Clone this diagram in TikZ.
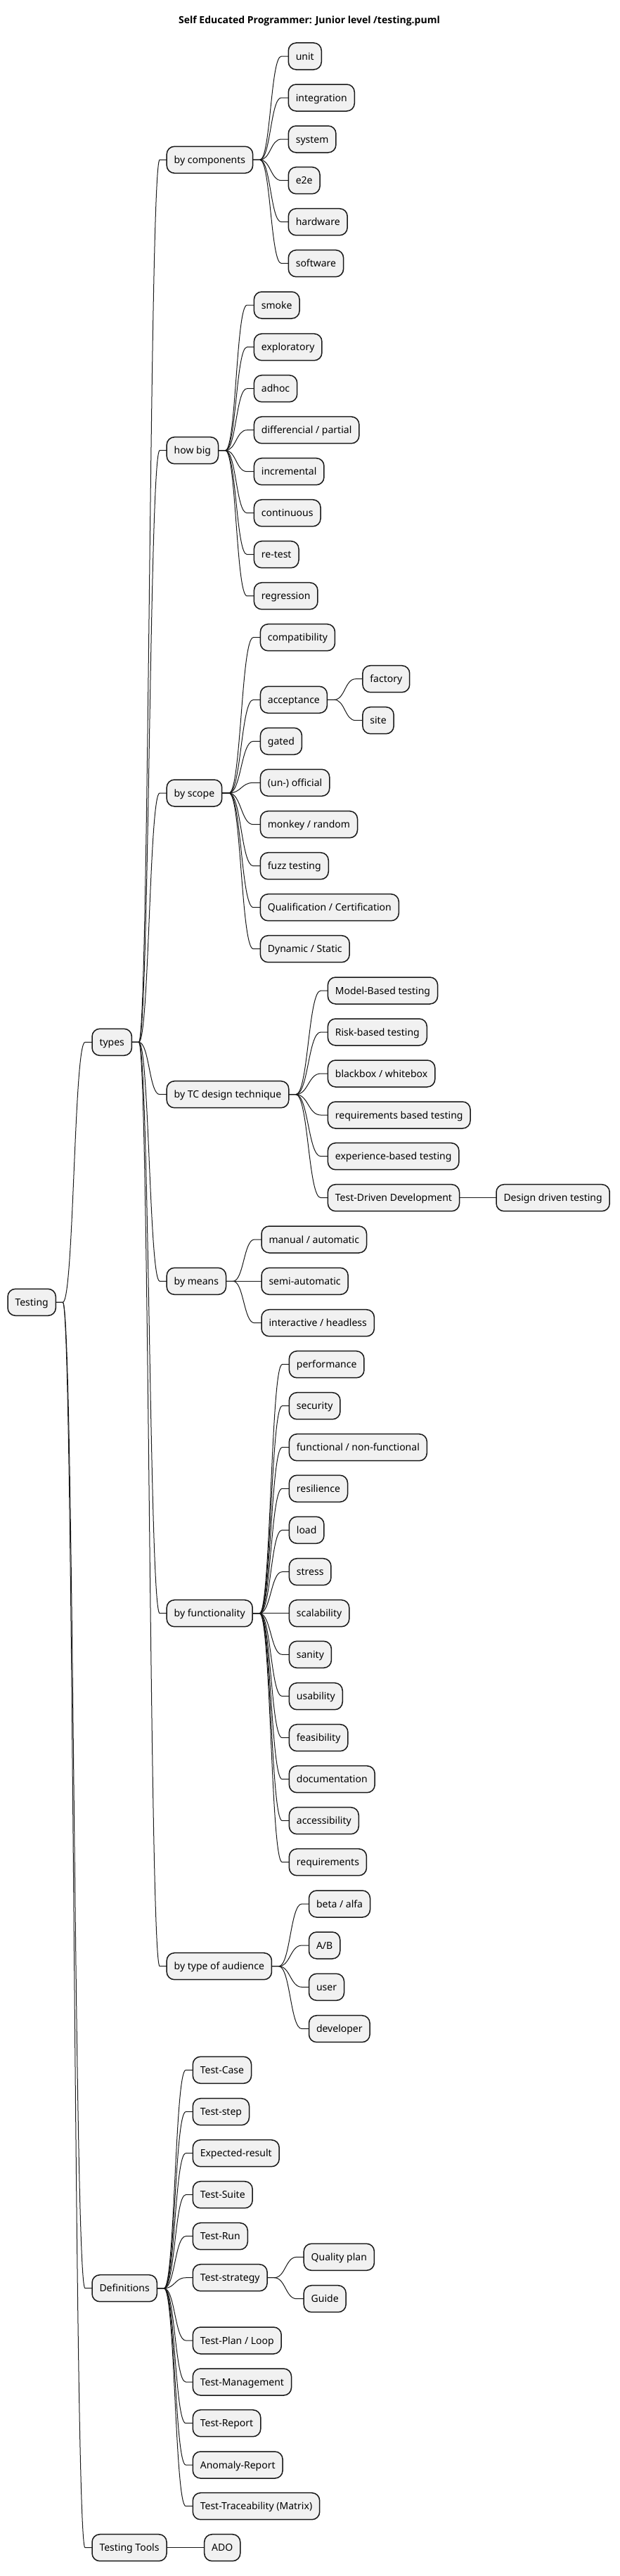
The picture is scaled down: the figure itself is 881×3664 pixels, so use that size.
\documentclass[tikz,border=0pt]{standalone}
\usepackage{fontspec}
\setmainfont{Noto Sans}
\newfontfamily\ttlfont{Open Sans}
\usetikzlibrary{calc,backgrounds}
\definecolor{boxfill}{HTML}{F1F1F1}
\definecolor{boxline}{HTML}{181818}
\tikzset{
  mm/.style={draw=boxline, fill=boxfill, line width=1.5pt, rounded corners=11pt,
    anchor=west, inner xsep=10.5pt, inner ysep=0pt, minimum height=38pt,
    text height=10pt, text depth=0pt, outer sep=0pt,
    font=\fontsize{14pt}{16pt}\selectfont},
  edge/.style={draw=boxline, line width=1pt},
  ttl/.style={font=\ttlfont\fontsize{14pt}{16pt}\selectfont\bfseries, inner sep=0pt},
}
\newcommand\mmconn[2]{\draw[edge] let \p1=(#1.east), \p2=(#2.west) in
  (\p1) -- (\x1+10pt,\y1) .. controls ({0.5*\x1+0.5*\x2},\y1) and ({0.5*\x1+0.5*\x2},\y2) .. (\x2-10pt,\y2) -- (\p2);}
\begin{document}
\begin{tikzpicture}[x=1pt,y=-1pt]
\useasboundingbox (0,0) rectangle (881,3664);
\node[ttl] (title) at (440,30) {Self Educated Programmer: Junior level /testing.puml};
% level 0/1
\node[mm] (T) at (11,1852.3) {Testing};
\node[mm] (types) at (131,1482.3) {types};
\node[mm] (defs) at (131,3254.7) {Definitions};
\node[mm] (tools) at (131,3623.7) {Testing Tools};
\node[mm] (ado) at (290.7,3623.7) {ADO};
% level 2
\node[mm] (comp) at (237.2,227.3) {by components};
\node[mm] (big) at (237.2,640.7) {how big};
\node[mm] (scope) at (237.2,1128) {by scope};
\node[mm] (tc) at (237.2,1556.7) {by TC design technique};
\node[mm] (means) at (237.2,1822.3) {by means};
\node[mm] (func) at (237.2,2294.7) {by functionality};
\node[mm] (aud) at (237.2,2796.7) {by type of audience};
% by components
\node[mm] (unit) at (410.3,80) {unit};
\node[mm] (integ) at (410.3,139) {integration};
\node[mm] (system) at (410.3,198) {system};
\node[mm] (etoe) at (410.3,256.7) {e2e};
\node[mm] (hw) at (410.3,315.7) {hardware};
\node[mm] (sw) at (410.3,374.7) {software};
% how big
\node[mm] (smoke) at (361.4,434) {smoke};
\node[mm] (explo) at (361.4,493.7) {exploratory};
\node[mm] (adhoc) at (361.4,552.7) {adhoc};
\node[mm] (diff) at (361.4,611.7) {differencial / partial};
\node[mm] (incr) at (361.4,670.7) {incremental};
\node[mm] (cont) at (361.4,729.7) {continuous};
\node[mm] (retest) at (361.4,788.7) {re-test};
\node[mm] (regr) at (361.4,847.7) {regression};
% by scope
\node[mm] (compat) at (370.4,906.7) {compatibility};
\node[mm] (accept) at (370.4,995.3) {acceptance};
\node[mm] (gated) at (370.4,1054.3) {gated};
\node[mm] (unoff) at (370.4,1113.3) {(un-) official};
\node[mm] (monkey) at (370.4,1172.7) {monkey / random};
\node[mm] (fuzz) at (370.4,1231.7) {fuzz testing};
\node[mm] (qual) at (370.4,1290.7) {Qualification / Certification};
\node[mm] (dyn) at (370.4,1349.7) {Dynamic / Static};
\node[mm] (factory) at (515.9,965.7) {factory};
\node[mm] (site) at (515.9,1024.7) {site};
% by TC design technique
\node[mm] (model) at (466.4,1409) {Model-Based testing};
\node[mm] (risk) at (466.4,1468) {Risk-based testing};
\node[mm] (bbox) at (466.4,1527) {blackbox / whitebox};
\node[mm] (reqb) at (466.4,1586) {requirements based testing};
\node[mm] (exper) at (466.4,1644.7) {experience-based testing};
\node[mm] (tdd) at (466.4,1703.7) {Test-Driven Development};
\node[mm] (ddt) at (706,1703.7) {Design driven testing};
% by means
\node[mm] (manual) at (372,1763) {manual / automatic};
\node[mm] (semi) at (372,1822.3) {semi-automatic};
\node[mm] (inter) at (372,1881.7) {interactive / headless};
% by functionality
\node[mm] (perf) at (411.4,1940.7) {performance};
\node[mm] (secu) at (411.4,1999.7) {security};
\node[mm] (fnf) at (411.4,2058.7) {functional / non-functional};
\node[mm] (resil) at (411.4,2117.3) {resilience};
\node[mm] (load) at (411.4,2176.3) {load};
\node[mm] (stress) at (411.4,2235.7) {stress};
\node[mm] (scal) at (411.4,2294.7) {scalability};
\node[mm] (sanity) at (411.4,2353.3) {sanity};
\node[mm] (usab) at (411.4,2412.7) {usability};
\node[mm] (feas) at (411.4,2471.7) {feasibility};
\node[mm] (docu) at (411.4,2530.7) {documentation};
\node[mm] (acces) at (411.4,2589.7) {accessibility};
\node[mm] (reqs) at (411.4,2648.7) {requirements};
% by type of audience
\node[mm] (beta) at (439.5,2708) {beta / alfa};
\node[mm] (ab) at (439.5,2767) {A/B};
\node[mm] (user) at (439.5,2826.3) {user};
\node[mm] (dev) at (439.5,2885.7) {developer};
% definitions
\node[mm] (tcase) at (274.3,2944.3) {Test-Case};
\node[mm] (tstep) at (274.3,3003.7) {Test-step};
\node[mm] (expres) at (274.3,3062.7) {Expected-result};
\node[mm] (tsuite) at (274.3,3121.7) {Test-Suite};
\node[mm] (trun) at (274.3,3180.7) {Test-Run};
\node[mm] (tstrat) at (274.3,3239.7) {Test-strategy};
\node[mm] (tplan) at (274.3,3329) {Test-Plan / Loop};
\node[mm] (tmgmt) at (274.3,3388) {Test-Management};
\node[mm] (trep) at (274.3,3446.7) {Test-Report};
\node[mm] (anom) at (274.3,3506) {Anomaly-Report};
\node[mm] (trace) at (274.3,3564.7) {Test-Traceability (Matrix)};
\node[mm] (qplan) at (432.2,3210.3) {Quality plan};
\node[mm] (guide) at (432.2,3269.7) {Guide};
\begin{scope}[on background layer]
\fill[white] (0,0) rectangle (881,3664);
\foreach \c in {types,defs,tools} {\mmconn{T}{\c}}
\mmconn{tools}{ado}
\foreach \c in {comp,big,scope,tc,means,func,aud} {\mmconn{types}{\c}}
\foreach \c in {unit,integ,system,etoe,hw,sw} {\mmconn{comp}{\c}}
\foreach \c in {smoke,explo,adhoc,diff,incr,cont,retest,regr} {\mmconn{big}{\c}}
\foreach \c in {compat,accept,gated,unoff,monkey,fuzz,qual,dyn} {\mmconn{scope}{\c}}
\foreach \c in {factory,site} {\mmconn{accept}{\c}}
\foreach \c in {model,risk,bbox,reqb,exper,tdd} {\mmconn{tc}{\c}}
\mmconn{tdd}{ddt}
\foreach \c in {manual,semi,inter} {\mmconn{means}{\c}}
\foreach \c in {perf,secu,fnf,resil,load,stress,scal,sanity,usab,feas,docu,acces,reqs} {\mmconn{func}{\c}}
\foreach \c in {beta,ab,user,dev} {\mmconn{aud}{\c}}
\foreach \c in {tcase,tstep,expres,tsuite,trun,tstrat,tplan,tmgmt,trep,anom,trace} {\mmconn{defs}{\c}}
\foreach \c in {qplan,guide} {\mmconn{tstrat}{\c}}
\end{scope}
\end{tikzpicture}
\end{document}
